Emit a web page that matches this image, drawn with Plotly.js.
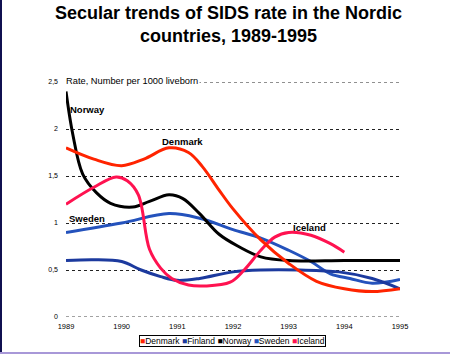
<!DOCTYPE html>
<html>
<head>
<meta charset="utf-8">
<script src="https://cdn.plot.ly/plotly-3.0.1.min.js"></script>
<style>html,body{margin:0;padding:0;background:#fff;}#chart{width:450px;height:354px;}</style>
</head>
<body>
<div id="chart"></div>
<script>
// Data (SIDS rate per 1000 liveborn)
const denmarkYears = [1989, 1989.5, 1990, 1990.4, 1990.85, 1991.2, 1991.45, 1991.75, 1992, 1992.5, 1993, 1993.5, 1994, 1994.5, 1995];
const denmarkRate  = [1.80, 1.68, 1.61, 1.68, 1.80, 1.75, 1.60, 1.35, 1.15, 0.82, 0.57, 0.38, 0.30, 0.27, 0.30];

const finlandYears = [1989, 1989.5, 1990, 1990.35, 1990.7, 1991, 1991.4, 1992, 1992.5, 1993.2, 1993.9, 1994.5, 1995];
const finlandRate  = [0.60, 0.61, 0.59, 0.50, 0.43, 0.39, 0.41, 0.48, 0.50, 0.50, 0.48, 0.41, 0.30];

const norwayYears = [1989, 1989.12, 1989.3, 1989.55, 1989.8, 1990.2, 1990.5, 1990.85, 1991.1, 1991.4, 1991.75, 1992.1, 1992.5, 1993, 1994, 1995];
const norwayRate  = [2.40, 1.95, 1.52, 1.32, 1.21, 1.17, 1.23, 1.30, 1.26, 1.10, 0.88, 0.75, 0.64, 0.60, 0.60, 0.60];

const swedenYears = [1989, 1990, 1990.85, 1991.4, 1992, 1992.5, 1993, 1993.4, 1993.75, 1994.1, 1994.5, 1995];
const swedenRate  = [0.90, 1.00, 1.10, 1.05, 0.93, 0.84, 0.71, 0.59, 0.46, 0.41, 0.36, 0.40];

const icelandYears = [1989, 1989.5, 1989.9, 1990.1, 1990.3, 1990.5, 1990.7, 1990.9, 1991.2, 1991.5, 1991.95, 1992.2, 1992.5, 1992.75, 1993, 1993.4, 1993.75, 1994];
const icelandRate  = [1.20, 1.38, 1.49, 1.45, 1.30, 0.72, 0.52, 0.41, 0.34, 0.33, 0.37, 0.50, 0.71, 0.85, 0.90, 0.87, 0.78, 0.69];

const xTickVals = [1989, 1990, 1991, 1992, 1993, 1994, 1995];
const xTickText = ["1989", "1990", "1991", "1992", "1993", "1994", "1995"];
const yTickVals = [0, 0.5, 1, 1.5, 2, 2.5];
const yTickText = ["0", "0,5", "1", "1,5", "2", "2,5"];

const seriesNames = ["Denmark", "Finland", "Norway", "Sweden", "Iceland"];
const seriesColors = ["#ff2400", "#1c3a9e", "#000000", "#2452bc", "#ff1250"];

const seriesX = [denmarkYears, finlandYears, norwayYears, swedenYears, icelandYears];
const seriesY = [denmarkRate, finlandRate, norwayRate, swedenRate, icelandRate];

// draw order: Sweden, Finland, Norway, Iceland, Denmark on top
const order = [3, 1, 2, 4, 0];
const traces = order.map(i => ({
  x: seriesX[i], y: seriesY[i], name: seriesNames[i], type: 'scatter', mode: 'lines',
  line: {color: seriesColors[i], width: 3, shape: 'spline', smoothing: 1},
  showlegend: false, hoverinfo: 'skip'
}));

const FONT = 'Liberation Sans, Arial, sans-serif';
const labelFont = {family: FONT, size: 9.5, color: '#000', weight: 'bold'};

const legendText = seriesNames.map((n, i) =>
  '<span style="color:' + seriesColors[i] + '">■</span>' + n).join(' ');

// plot area in pixels: x 66..400, y 82..317
const px = v => (v - 66) / 334;
const py = v => (317 - v) / 235;

const layout = {
  width: 450, height: 354,
  margin: {l: 66, r: 50, t: 82, b: 37},
  paper_bgcolor: '#ffffff', plot_bgcolor: '#ffffff',
  xaxis: {
    range: [1989, 1995], tickvals: xTickVals, ticktext: xTickText,
    showgrid: false, zeroline: false, showline: false, ticks: '',
    tickfont: {family: FONT, size: 7.5, color: '#000'},
    ticklabelstandoff: 3
  },
  yaxis: {
    range: [0, 2.5], tickvals: yTickVals, ticktext: yTickText,
    showgrid: true, gridcolor: '#222', gridwidth: 1, griddash: 'dot',
    zeroline: false, showline: false, ticks: '',
    tickfont: {family: FONT, size: 7, color: '#000'},
    ticklabelstandoff: 7
  },
  annotations: [
    {x: px(228), y: py(24), xref: 'paper', yref: 'paper', xanchor: 'center', yanchor: 'middle', showarrow: false,
     text: '<b>Secular trends of SIDS rate in the Nordic<br>countries, 1989-1995</b>',
     font: {family: FONT, size: 18, color: '#000'}},
    {x: 1989, y: 2.5, xref: 'x', yref: 'y', xanchor: 'left', yanchor: 'middle', showarrow: false,
     text: 'Rate, Number per 1000 liveborn', bgcolor: '#ffffff', xshift: -2, yshift: 1,
     font: {family: FONT, size: 9.3, color: '#000'}},
    {x: 1989.04, y: 2.21, xref: 'x', yref: 'y', xanchor: 'left', yanchor: 'middle', showarrow: false,
     text: 'Norway', font: labelFont},
    {x: 1990.69, y: 1.87, xref: 'x', yref: 'y', xanchor: 'left', yanchor: 'middle', showarrow: false,
     text: 'Denmark', font: labelFont},
    {x: 1989.02, y: 1.05, xref: 'x', yref: 'y', xanchor: 'left', yanchor: 'middle', showarrow: false,
     text: 'Sweden', font: labelFont},
    {x: 1988.99, y: 0.69, xref: 'x', yref: 'y', xanchor: 'left', yanchor: 'middle', showarrow: false,
     text: 'Finland', font: labelFont},
    {x: 1993.05, y: 0.95, xref: 'x', yref: 'y', xanchor: 'left', yanchor: 'middle', showarrow: false,
     text: 'Iceland', font: labelFont},
    {x: px(232), y: py(340.5), xref: 'paper', yref: 'paper', xanchor: 'center', yanchor: 'middle',
     showarrow: false, text: legendText, bgcolor: '#ffffff', bordercolor: '#000', borderwidth: 1, borderpad: 0,
     font: {family: FONT, size: 8.5, color: '#000'}}
  ],
  shapes: [
    {type: 'line', xref: 'paper', yref: 'y', x0: 0, x1: 1, y0: 0, y1: 0, layer: 'below',
     line: {color: '#444', width: 1, dash: 'dot'}},
    {type: 'line', xref: 'paper', yref: 'y', x0: 0, x1: 1, y0: 2.5, y1: 2.5, layer: 'below',
     line: {color: '#222', width: 1, dash: 'dot'}},
    {type: 'rect', xref: 'paper', yref: 'paper', x0: px(0), x1: px(2), y0: py(354), y1: py(0),
     fillcolor: '#101050', line: {width: 0}},
    {type: 'rect', xref: 'paper', yref: 'paper', x0: px(0), x1: px(450), y0: py(354), y1: py(352),
     fillcolor: '#a898d8', line: {width: 0}}
  ]
};

Plotly.newPlot('chart', traces, layout, {displayModeBar: false, staticPlot: true});
</script>
</body>
</html>
